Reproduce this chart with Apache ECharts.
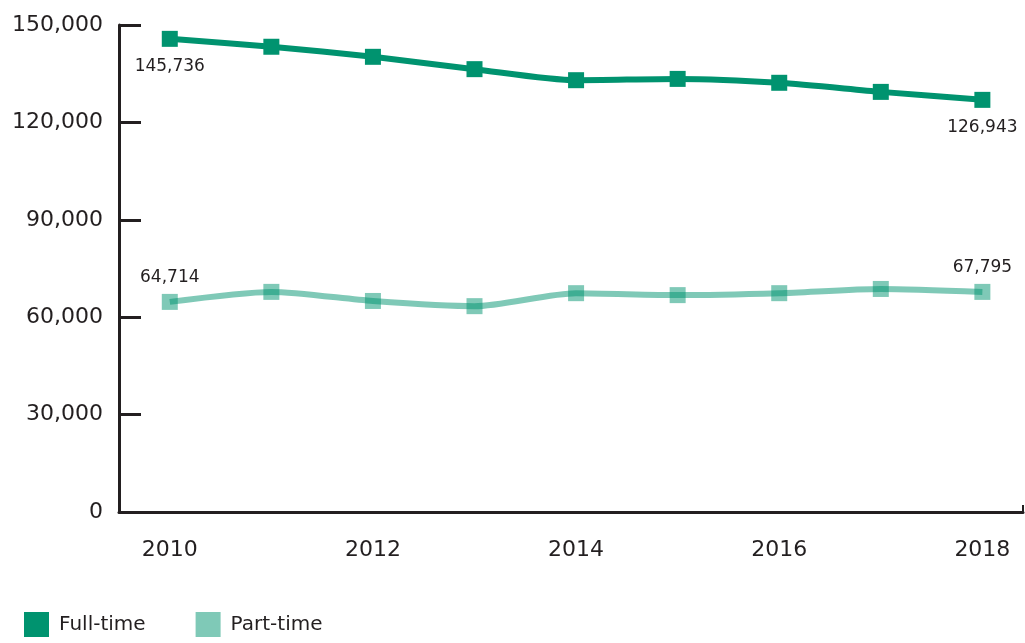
<!DOCTYPE html>
<html><head><meta charset="utf-8">
<script src="https://cdn.jsdelivr.net/npm/echarts@6/dist/echarts.min.js"></script>
<style>html,body{margin:0;padding:0;background:#fff}#c{width:1025px;height:643px}</style>
</head><body><div id="c"></div>
<script>
const years = [2010, 2011, 2012, 2013, 2014, 2015, 2016, 2017, 2018];
const fullTime = [145736, 143300, 140200, 136400, 133000, 133400, 132200, 129400, 126943];
const partTime = [64714, 67800, 65000, 63400, 67400, 66800, 67400, 68700, 67795];
const yearLabels = [2010, 2012, 2014, 2016, 2018];
const yTicks = [0, 30000, 60000, 90000, 120000, 150000];
const labelled = [0, 8];

const FONT = 'DejaVu Sans';
const TXT = '#231f20';
const fmt = v => v.toLocaleString('en-US');

const chart = echarts.init(document.getElementById('c'));
function labelFor(pos, dist) {
  return {
    show: true, position: pos, distance: dist,
    fontFamily: FONT, fontSize: 17, color: TXT,
    formatter: p => labelled.includes(p.dataIndex) ? fmt(p.value[1]) : ''
  };
}
chart.setOption({
  animation: false,
  grid: { left: 119, right: 2, top: 25, bottom: 131, containLabel: false },
  legend: {
    left: 24, top: 612, padding: 0, itemWidth: 25, itemHeight: 25, itemGap: 50,
    icon: 'rect',
    textStyle: { fontFamily: FONT, fontSize: 20, color: TXT, padding: [2, 0, 0, 5] },
    data: ['Full-time', 'Part-time']
  },
  xAxis: {
    type: 'value', min: 2009.5, max: 2018.4,
    splitLine: { show: false },
    axisLine: { show: true, lineStyle: { color: TXT, width: 3 } },
    axisTick: { show: true, inside: true, length: 7, customValues: [2018.4], lineStyle: { color: TXT, width: 2 } },
    axisLabel: { customValues: yearLabels, margin: 27, fontFamily: FONT, fontSize: 22, color: TXT, formatter: v => String(v) }
  },
  yAxis: {
    type: 'value', min: 0, max: 150000, interval: 30000,
    splitLine: { show: false },
    axisLine: { show: true, lineStyle: { color: TXT, width: 3 } },
    axisTick: { show: true, inside: true, length: 22, lineStyle: { color: TXT, width: 3 } },
    axisLabel: { margin: 16, fontFamily: FONT, fontSize: 22, color: TXT, formatter: v => fmt(v) }
  },
  series: [
    {
      name: 'Full-time', type: 'line', smooth: 0.25,
      data: years.map((y, i) => [y, fullTime[i]]),
      symbol: 'rect', symbolSize: 16,
      lineStyle: { width: 6, color: '#00936f' },
      itemStyle: { color: '#00936f' },
      label: labelFor('bottom', 11)
    },
    {
      name: 'Part-time', type: 'line', smooth: 0.25,
      data: years.map((y, i) => [y, partTime[i]]),
      symbol: 'rect', symbolSize: 16,
      lineStyle: { width: 6, color: 'rgba(0,147,111,0.5)' },
      itemStyle: { color: 'rgba(0,147,111,0.5)' },
      label: labelFor('top', 8)
    }
  ]
});
</script></body></html>
